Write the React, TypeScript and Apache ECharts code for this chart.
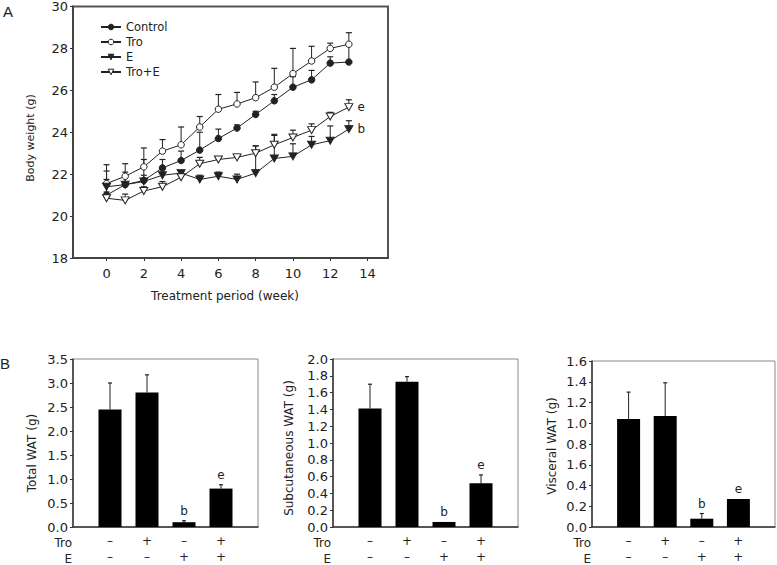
import React, { useEffect, useRef } from "react";
import * as echarts from "echarts";

// ---------- Panel A data ----------
const weeks = [0, 1, 2, 3, 4, 5, 6, 7, 8, 9, 10, 11, 12, 13];
const xTickValues = [0, 2, 4, 6, 8, 10, 12, 14];
const controlMean = [21.0, 21.5, 21.7, 22.3, 22.65, 23.15, 23.7, 24.2, 24.85, 25.5, 26.15, 26.5, 27.3, 27.35];
const controlErr = [0.75, 0.6, 1.0, 0.4, 0.45, 0.85, 0.45, 0.15, 0.15, 0.3, 0.5, 0.45, 0.3, 0.85];
const troMean = [21.55, 21.9, 22.35, 23.1, 23.4, 24.25, 25.1, 25.35, 25.65, 26.15, 26.8, 27.4, 28.0, 28.2];
const troErr = [0.9, 0.6, 0.9, 0.55, 0.85, 0.5, 0.7, 0.55, 0.75, 0.9, 1.2, 0.7, 0.25, 0.55];
const eMean = [21.4, 21.5, 21.65, 21.95, 22.05, 21.75, 21.9, 21.75, 22.05, 22.75, 22.85, 23.4, 23.6, 24.15];
const eErr = [0.75, 0.4, 0.3, 0.3, 0.1, 0.2, 0.2, 0.25, 1.3, 1.1, 0.6, 0.4, 0.7, 0.4];
const troEMean = [20.85, 20.75, 21.2, 21.4, 21.85, 22.5, 22.7, 22.8, 23.0, 23.4, 23.75, 24.1, 24.75, 25.2];
const troEErr = [0.3, 0.3, 0.2, 0.25, 0.15, 0.3, 0.1, 0.15, 0.35, 0.5, 0.35, 0.3, 0.2, 0.35];
const seriesNames = ["Control", "Tro", "E", "Tro+E"];
const endLetters = ["", "", "b", "e"];

// ---------- Panel B data ----------
const groupPositions = [1, 2, 3, 4];
const troSigns = ["–", "+", "–", "+"];
const eSigns = ["–", "–", "+", "+"];
const sigLetters = ["", "", "b", "e"];
const totalMean = [2.45, 2.8, 0.1, 0.8];
const totalErr = [0.55, 0.37, 0.03, 0.08];
const subMean = [1.41, 1.73, 0.06, 0.52];
const subErr = [0.29, 0.06, 0, 0.1];
const visMean = [1.04, 1.07, 0.08, 0.27];
const visErr = [0.26, 0.32, 0.05, 0];
const visceralTickLabels = ["0.0", "0.2", "0.4", "1.6", "0.8", "1.0", "1.2", "1.4", "1.6"];

const FONT = "DejaVu Sans";
const INK = "#222";

function makeErrSeries(x: number[], mean: number[], err: number[], axisIdx: number, capHalf: number, letters?: string[]) {
  return {
    type: "custom",
    xAxisIndex: axisIdx,
    yAxisIndex: axisIdx,
    silent: true,
    z: 1,
    data: x.map((v, i) => [v, mean[i], mean[i] + err[i]]),
    renderItem: (params: any, api: any) => {
      const p0 = api.coord([api.value(0), api.value(1)]);
      const p1 = api.coord([api.value(0), api.value(2)]);
      const children: any[] = [];
      if (p0[1] - p1[1] > 0.5) {
        children.push({
          type: "line",
          shape: { x1: p0[0], y1: p0[1], x2: p1[0], y2: p1[1] },
          style: { stroke: INK, lineWidth: 1 },
        });
        children.push({
          type: "line",
          shape: { x1: p1[0] - capHalf, y1: p1[1], x2: p1[0] + capHalf, y2: p1[1] },
          style: { stroke: INK, lineWidth: 1.2 },
        });
      }
      const letter = letters ? letters[params.dataIndex] : "";
      if (letter) {
        children.push({
          type: "text",
          x: p1[0],
          y: p1[1] - 10,
          style: {
            text: letter,
            textAlign: "center",
            textVerticalAlign: "middle",
            font: `12px ${FONT}`,
            fill: INK,
          },
        });
      }
      return { type: "group", children };
    },
  };
}

function barAxes(idx: number, max: number, interval: number, labelFn: (v: number) => string) {
  const xAxis = {
    type: "value",
    gridIndex: idx,
    min: 0,
    max: 5,
    splitLine: { show: false },
    axisLine: { show: true, onZero: false, lineStyle: { color: "#333", width: 1.5 } },
    axisTick: { show: false },
    axisLabel: {
      customValues: groupPositions,
      formatter: (v: number) => {
        const i = groupPositions.indexOf(Math.round(v));
        return i < 0 ? "" : `${troSigns[i]}\n${eSigns[i]}`;
      },
      lineHeight: 16,
      margin: 6,
      fontFamily: FONT,
      fontSize: 12,
      color: INK,
    },
  };
  const yAxis = {
    type: "value",
    gridIndex: idx,
    min: 0,
    max,
    interval,
    splitLine: { show: false },
    axisLine: { show: true, onZero: false, lineStyle: { color: "#333", width: 1.5 } },
    axisTick: { show: true, length: 3, lineStyle: { color: "#333" } },
    axisLabel: { formatter: labelFn, margin: 5, fontFamily: FONT, fontSize: 13, color: INK },
  };
  return { xAxis, yAxis };
}

export default function App() {
  const ref = useRef<HTMLDivElement>(null);
  useEffect(() => {
    if (!ref.current) return;
    const chart = echarts.init(ref.current, undefined, { renderer: "svg" });

    const means = [controlMean, troMean, eMean, troEMean];
    const errs = [controlErr, troErr, eErr, troEErr];
    const symbols = ["circle", "circle", "triangle", "triangle"];
    const rotations = [0, 0, 180, 180];
    const symbolSizes: any[] = [6.5, 6.5, [8, 7], [8, 7]];
    const fills = [INK, "#fff", INK, "#fff"];

    const lineSeries = seriesNames.map((name, k) => ({
      type: "line",
      name,
      xAxisIndex: 0,
      yAxisIndex: 0,
      z: 3,
      data: weeks.map((w, i) => [w, means[k][i]]),
      symbol: symbols[k],
      symbolRotate: rotations[k],
      symbolSize: symbolSizes[k],
      showSymbol: true,
      lineStyle: { color: INK, width: 1 },
      itemStyle: { color: fills[k], borderColor: INK, borderWidth: 1 },
      label: {
        show: !!endLetters[k],
        position: "right",
        distance: 4,
        formatter: (p: any) => (p.dataIndex === weeks.length - 1 ? endLetters[k] : ""),
        fontFamily: FONT,
        fontSize: 12,
        color: INK,
      },
    }));
    const lineErrSeries = seriesNames.map((_, k) => makeErrSeries(weeks, means[k], errs[k], 0, 3));

    const b1 = barAxes(1, 3.5, 0.5, (v) => v.toFixed(1));
    const b2 = barAxes(2, 2.0, 0.2, (v) => v.toFixed(1));
    const b3 = barAxes(3, 1.6, 0.2, (v) => visceralTickLabels[Math.round(v / 0.2)] ?? "");

    const barSeries = (idx: number, mean: number[]) => ({
      type: "bar",
      xAxisIndex: idx,
      yAxisIndex: idx,
      barWidth: 23,
      z: 2,
      data: groupPositions.map((x, i) => [x, mean[i]]),
      itemStyle: { color: "#000" },
    });

    const textEl = (text: string, x: number, y: number, size: number, opts: any = {}) => ({
      type: "text",
      x,
      y,
      rotation: opts.rotation ?? 0,
      style: {
        text,
        font: `${size}px ${opts.family ?? FONT}`,
        fill: INK,
        textAlign: opts.align ?? "center",
        textVerticalAlign: opts.valign ?? "middle",
      },
    });

    const option: any = {
      animation: false,
      backgroundColor: "#fff",
      grid: [
        { left: 73, top: 4, width: 315, height: 254, show: true, borderColor: "#555", borderWidth: 2 },
        { left: 73, top: 359, width: 185, height: 170, show: true, borderColor: "#8a8a8a", borderWidth: 1 },
        { left: 333, top: 359, width: 185, height: 170, show: true, borderColor: "#8a8a8a", borderWidth: 1 },
        { left: 592, top: 361, width: 183, height: 168, show: true, borderColor: "#8a8a8a", borderWidth: 1 },
      ],
      legend: {
        data: seriesNames.map((name, k) => ({
          name,
          itemStyle: { color: fills[k], borderColor: INK, borderWidth: 1 },
        })),
        orient: "vertical",
        left: 95,
        top: 16,
        itemWidth: 20,
        itemHeight: 7,
        itemGap: 3,
        textStyle: { fontFamily: FONT, fontSize: 11.5, color: INK },
        selectedMode: false,
      },
      xAxis: [
        {
          type: "value",
          gridIndex: 0,
          min: -1.8,
          max: 15.1,
          splitLine: { show: false },
          axisLine: { show: true, onZero: false, lineStyle: { color: "#444", width: 2 } },
          axisTick: { show: true, length: 3, customValues: xTickValues, lineStyle: { color: "#333" } },
          axisLabel: {
            customValues: xTickValues,
            margin: 9,
            fontFamily: FONT,
            fontSize: 13,
            color: INK,
          },
        },
        b1.xAxis,
        b2.xAxis,
        b3.xAxis,
      ],
      yAxis: [
        {
          type: "value",
          gridIndex: 0,
          min: 18,
          max: 30,
          interval: 2,
          splitLine: { show: false },
          axisLine: { show: true, onZero: false, lineStyle: { color: "#444", width: 2 } },
          axisTick: { show: true, length: 3, lineStyle: { color: "#333" } },
          axisLabel: { margin: 5, fontFamily: FONT, fontSize: 13, color: INK },
        },
        b1.yAxis,
        b2.yAxis,
        b3.yAxis,
      ],
      series: [
        ...lineErrSeries,
        ...lineSeries,
        barSeries(1, totalMean),
        barSeries(2, subMean),
        barSeries(3, visMean),
        makeErrSeries(groupPositions, totalMean, totalErr, 1, 2, sigLetters),
        makeErrSeries(groupPositions, subMean, subErr, 2, 2, sigLetters),
        makeErrSeries(groupPositions, visMean, visErr, 3, 2, sigLetters),
      ],
      graphic: [
        textEl("A", 3, 4, 15, { align: "left", valign: "top", family: "Liberation Sans" }),
        textEl("B", 0, 356, 15, { align: "left", valign: "top", family: "Liberation Sans" }),
        textEl("Body weight (g)", 30, 138, 11, { rotation: Math.PI / 2 }),
        textEl("Treatment period (week)", 225, 296, 12),
        textEl("Total WAT (g)", 32, 453, 12, { rotation: Math.PI / 2 }),
        textEl("Subcutaneous WAT (g)", 289, 448, 12, { rotation: Math.PI / 2 }),
        textEl("Visceral WAT (g)", 552, 446, 12, { rotation: Math.PI / 2 }),
        textEl("Tro", 72, 543, 12, { align: "right" }),
        textEl("E", 72, 559, 12, { align: "right" }),
        textEl("Tro", 331, 543, 12, { align: "right" }),
        textEl("E", 331, 559, 12, { align: "right" }),
        textEl("Tro", 591, 543, 12, { align: "right" }),
        textEl("E", 591, 559, 12, { align: "right" }),
      ],
    };
    chart.setOption(option);
    return () => chart.dispose();
  }, []);
  return (
    <div
      ref={ref}
      style={{ position: "absolute", left: 0, top: 0, width: 777, height: 565, background: "#fff" }}
    />
  );
}
